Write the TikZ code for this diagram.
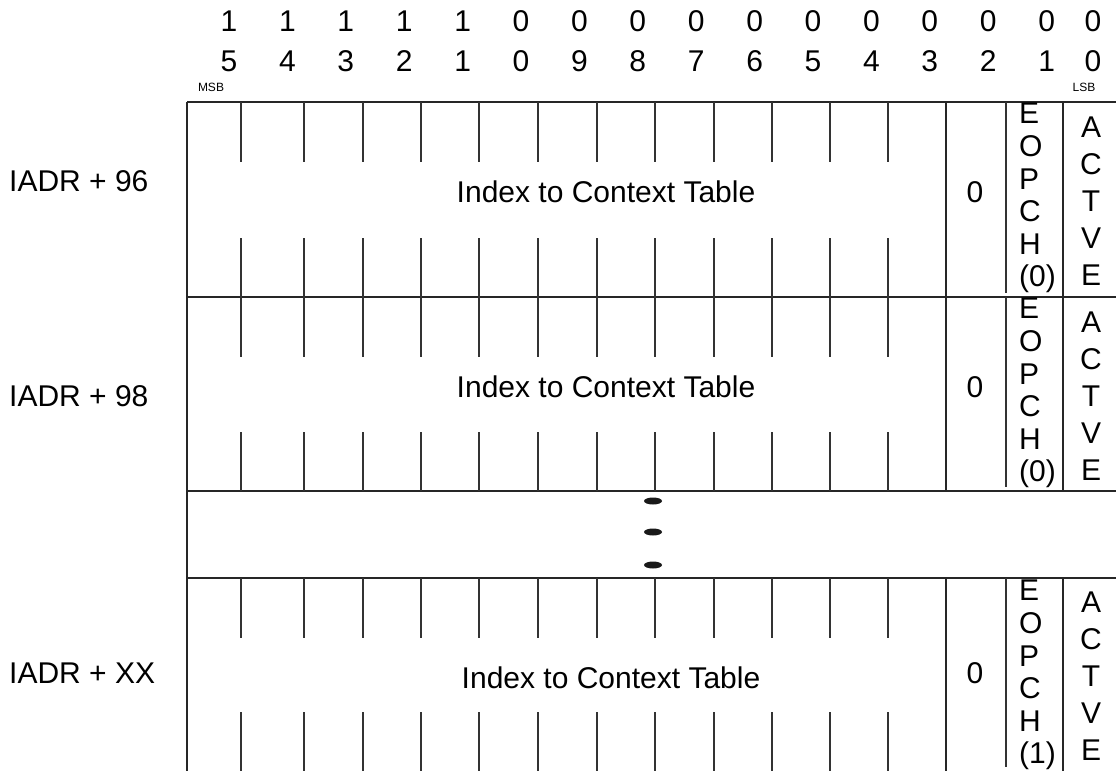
\documentclass[tikz,border=0pt]{standalone}
\usepackage{fontspec}
\setmainfont{Liberation Sans}
\begin{document}
\begin{tikzpicture}[x=1pt,y=-1pt,
        rule/.style={line width=1.3pt,black!85},
        tick/.style={line width=1.2pt,black!80},
        big/.style={font=\fontsize{30}{32}\selectfont,inner sep=0pt},
        small/.style={font=\fontsize{12}{14}\selectfont,inner sep=0pt},
        eopch/.style={big,align=left,anchor=north west,font=\fontsize{30}{32.6}\selectfont},
        actve/.style={big,align=center,anchor=north,font=\fontsize{30}{37}\selectfont}]
        \useasboundingbox (0,0) rectangle (1116,771);
        %% Bit numbers
        \foreach \hi/\lo [count=\k from 0] in {1/5,1/4,1/3,1/2,1/1,0/0,0/9,0/8,0/7,0/6,0/5,0/4,0/3,0/2,0/1}
            {\node[big] (hi\k) at (229+58.4*\k,21) {\hi};
             \node[big] (lo\k) at (229+58.4*\k,61) {\lo};}
        \node[big] (hi15) at (1093,21) {0};
        \node[big] (lo15) at (1093,61) {0};
        \node[small] (msb) at (211,87) {MSB};
        \node[small] (lsb) at (1084,87) {LSB};
        %% Horizontal rules
        \foreach \y in {102,297,491,578}
            \draw[rule] (187,\y) -- (1116,\y);
        %% Left border
        \draw[rule] (187,102) -- (187,771);
        %% Field borders and bit ticks
        \foreach \t/\b in {102/297,297/491,578/771}
        {
            \foreach \x in {241,304,363,421,479,538,597,655,714,772,830,888}
            {
                \draw[tick] (\x,\t) -- (\x,\t+60);
                \draw[tick] (\x,\b-59) -- (\x,\b);
            }
            \draw[rule] (946,\t) -- (946,\b);
            \draw[tick] (1006,\t) -- (1006,\b-4);
            \draw[rule] (1063,\t) -- (1063,\b);
        }
        %% Row IADR + 96
        \node[big,anchor=west] (adra) at (9,181) {IADR + 96};
        \node[big] (idxa) at (606,192) {Index to Context Table};
        \node[big] (zeroa) at (975,192) {0};
        \node[eopch] (eopa) at (1019,103) {E\\O\\P\\C\\H\\(0)};
        \node[actve] (acta) at (1091,117) {A\\C\\T\\V\\E};
        %% Row IADR + 98
        \node[big,anchor=west] (adrb) at (9,396) {IADR + 98};
        \node[big] (idxb) at (606,387) {Index to Context Table};
        \node[big] (zerob) at (975,387) {0};
        \node[eopch] (eopb) at (1019,298) {E\\O\\P\\C\\H\\(0)};
        \node[actve] (actb) at (1091,312) {A\\C\\T\\V\\E};
        %% Dots
        \foreach \y in {501,532,565}
            \fill[black!90] (653,\y) ellipse [x radius=9pt, y radius=3.5pt];
        %% Row IADR + XX
        \node[big,anchor=west] (adrc) at (9,673) {IADR + XX};
        \node[big] (idxc) at (611,678) {Index to Context Table};
        \node[big] (zeroc) at (975,673) {0};
        \node[eopch] (eopc) at (1019,580) {E\\O\\P\\C\\H\\(1)};
        \node[actve] (actc) at (1091,592) {A\\C\\T\\V\\E};
\end{tikzpicture}
\end{document}
